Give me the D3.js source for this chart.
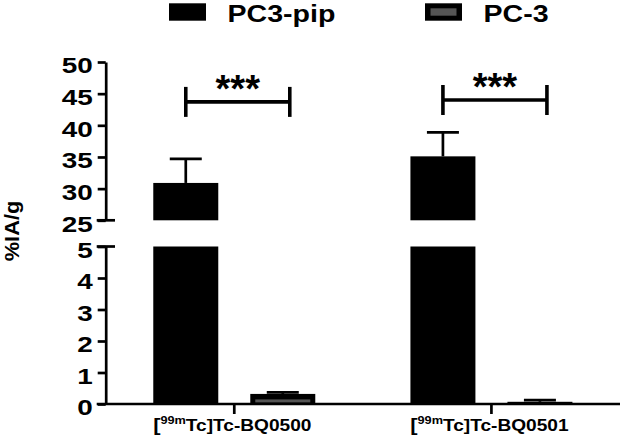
<!DOCTYPE html>
<html>
<head>
<meta charset="utf-8">
<script src="https://cdn.jsdelivr.net/npm/d3@7"></script>
<style>
  body { margin: 0; background: #fff; }
  svg { display: block; }
  text { font-family: "Liberation Sans", Arial, sans-serif; font-weight: bold; fill: #000; }
</style>
</head>
<body>
<svg id="chart" width="625" height="442"></svg>
<script>
// data
let categories = ["Tc-BQ0500", "Tc-BQ0501"];
let series = ["PC3-pip", "PC-3"];
let pipValues = [30.9, 35.1];
let pipErrors = [3.8, 3.8];
let pc3Values = [0.32, 0.07];
let pc3Errors = [0.05, 0.05];
let sigLabels = ["***", "***"];
let sigLevels = [43.7, 44.0];
let upperTicks = [25, 30, 35, 40, 45, 50];
let lowerTicks = [0, 1, 2, 3, 4, 5];

let svg = d3.select("#chart");
let lw = 2.7;

// broken y axis: two linear pieces
let yLow = d3.scaleLinear().domain([0, 5]).range([404, 246.5]);
let yHigh = d3.scaleLinear().domain([25, 50]).range([220.3, 62]);
function yOf(v) { return v <= 5 ? yLow(v) : yHigh(v); }

let x0 = d3.scaleBand().domain(categories).range([105.7, 620]).padding(0);
let x1 = d3.scaleBand().domain(series).range([-81, 81]).paddingInner(0.33);

function barX(cat, s) { return x0(cat) + x0.bandwidth() / 2 + x1(s); }

let rows = [];
categories.forEach(function (c, i) {
  rows.push({cat: c, s: "PC3-pip", v: pipValues[i], e: pipErrors[i]});
  rows.push({cat: c, s: "PC-3", v: pc3Values[i], e: pc3Errors[i]});
});

// bars
let bars = svg.append("g");
rows.forEach(function (d) {
  let x = barX(d.cat, d.s);
  let w = x1.bandwidth();
  let pieces = d.v > 5 ? [[yLow(0), yLow(5)], [yHigh(25), yHigh(d.v)]] : [[yLow(0), yLow(d.v)]];
  pieces.forEach(function (p) {
    let bot = p[0], top = p[1];
    bars.append("rect").attr("x", x).attr("y", top).attr("width", w).attr("height", bot - top)
      .attr("fill", "#000");
    if (d.s === "PC-3" && bot - top > 10) {
      bars.append("rect").attr("x", x + 5).attr("y", top + 5.5).attr("width", w - 10)
        .attr("height", bot - top - 7).attr("fill", "#555");
    }
  });
});

// error bars (upper only)
let errs = svg.append("g").attr("stroke", "#000").attr("stroke-width", lw);
rows.forEach(function (d) {
  let cx = barX(d.cat, d.s) + x1.bandwidth() / 2;
  let yTop = yOf(d.v + d.e);
  errs.append("line").attr("x1", cx).attr("x2", cx).attr("y1", yOf(d.v)).attr("y2", yTop);
  errs.append("line").attr("x1", cx - 16).attr("x2", cx + 16).attr("y1", yTop).attr("y2", yTop);
});

// y axes
function styleAxis(g) {
  g.selectAll("path, line").attr("stroke", "#000").attr("stroke-width", lw);
  g.selectAll("text").attr("font-size", 22.3).attr("font-family", "Liberation Sans")
    .attr("font-weight", "bold").attr("dy", "0.48em")
    .attr("x", -13 / 1.25).attr("transform", "scale(1.25,1)");
}
let upperAxis = svg.append("g").attr("transform", "translate(105.7,0)")
  .call(d3.axisLeft(yHigh).tickValues(upperTicks).tickSize(8).tickSizeOuter(0).tickFormat(d3.format("d")));
styleAxis(upperAxis);
let lowerAxis = svg.append("g").attr("transform", "translate(105.7,0)")
  .call(d3.axisLeft(yLow).tickValues(lowerTicks).tickSize(8).tickSizeOuter(0).tickFormat(d3.format("d")));
styleAxis(lowerAxis);

// break marks
[yHigh(25), yLow(5)].forEach(function (yy) {
  svg.append("line").attr("x1", 96.7).attr("x2", 115).attr("y1", yy).attr("y2", yy)
    .attr("stroke", "#000").attr("stroke-width", lw);
});

// x axis
let xAxis = svg.append("g").attr("transform", "translate(0," + yLow(0) + ")")
  .call(d3.axisBottom(x0).tickSize(10).tickSizeOuter(0));
xAxis.selectAll("path, line").attr("stroke", "#000").attr("stroke-width", lw);
xAxis.select(".domain").attr("d", "M96.7,0H620");
xAxis.selectAll("text").remove();
xAxis.selectAll(".tick").append("text")
  .attr("transform", "translate(-2,26.5) scale(1.21,1)")
  .attr("text-anchor", "middle")
  .attr("font-size", 15.8)
  .each(function (d) {
    let t = d3.select(this);
    t.append("tspan").attr("font-size", 18).text("[");
    t.append("tspan").attr("font-size", 10.5).attr("dy", -7).text("99m");
    t.append("tspan").attr("dy", 7).text("Tc]" + d);
  });

// y axis title
svg.append("text")
  .attr("transform", "translate(18.5,231) rotate(-90) scale(1.12,1)")
  .attr("text-anchor", "middle")
  .attr("font-size", 19.5)
  .text("%IA/g");

// significance brackets
categories.forEach(function (c, i) {
  let xl = barX(c, "PC3-pip") + x1.bandwidth() / 2;
  let xr = barX(c, "PC-3") + x1.bandwidth() / 2 + 7;
  let yy = yHigh(sigLevels[i]);
  let g = svg.append("g").attr("stroke", "#000").attr("stroke-width", 3.6);
  g.append("line").attr("x1", xl).attr("x2", xr).attr("y1", yy).attr("y2", yy);
  g.append("line").attr("x1", xl).attr("x2", xl).attr("y1", yy - 15).attr("y2", yy + 15);
  g.append("line").attr("x1", xr).attr("x2", xr).attr("y1", yy - 15).attr("y2", yy + 15);
  svg.append("text").attr("x", (xl + xr) / 2).attr("y", yy + 0.5)
    .attr("text-anchor", "middle").attr("font-size", 38)
    .attr("font-family", "DejaVu Sans").text(sigLabels[i]);
});

// legend
let legendX = [169, 425];
series.forEach(function (s, i) {
  svg.append("rect").attr("x", legendX[i]).attr("y", 3.3).attr("width", 37).attr("height", 17.4)
    .attr("fill", "#000");
  if (s === "PC-3") {
    svg.append("rect").attr("x", legendX[i] + 5.5).attr("y", 8.3).attr("width", 26).attr("height", 7.4)
      .attr("fill", "#555");
  }
  svg.append("text").attr("transform", "translate(" + (legendX[i] + 58.5) + ",21.5) scale(1.19,1)")
    .attr("font-size", 24).text(s);
});
</script>
</body>
</html>
